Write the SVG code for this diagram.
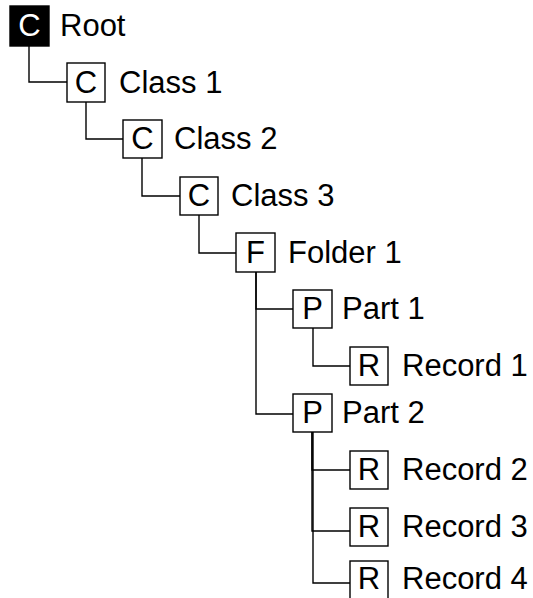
<svg xmlns="http://www.w3.org/2000/svg" width="533" height="598" viewBox="0 0 533 598">
<style>
.box{fill:#fff;stroke:#000;stroke-width:1.4}
.root{fill:#000;stroke:#000;stroke-width:1.4}
.t{font-family:"Liberation Sans",Arial,sans-serif;font-size:31px;fill:#000}
.k{font-family:"Liberation Sans",Arial,sans-serif;font-size:31px;fill:#000;text-anchor:middle}
.kw{font-family:"Liberation Sans",Arial,sans-serif;font-size:31px;fill:#fff;text-anchor:middle}
.c{fill:none;stroke:#000;stroke-width:1.4}
</style>
<rect width="533" height="598" fill="#fff"/>
<g id="connectors">
<polyline class="c" points="29,46 29,82 67,82"/>
<polyline class="c" points="86,102 86,139 123,139"/>
<polyline class="c" points="142,158 142,196 180,196"/>
<polyline class="c" points="199,215 199,253 236,253"/>
<polyline class="c" points="256,272 256,309 293,309"/>
<polyline class="c" points="256,272 256,414 293,414"/>
<polyline class="c" points="313,328 313,366 350,366"/>
<polyline class="c" points="312,432 312,470 350,470"/>
<polyline class="c" points="312,432 312,531 350,531"/>
<polyline class="c" points="313,432 313,583 350,583"/>
</g>
<g id="root"><rect class="root" x="10" y="6" width="39" height="40"/><text class="kw" x="29.5" y="36">C</text><text class="t" x="60" y="36">Root</text></g>
<g id="class1"><rect class="box" x="67" y="63" width="38" height="39"/><text class="k" x="86" y="93">C</text><text class="t" x="119" y="93">Class 1</text></g>
<g id="class2"><rect class="box" x="123" y="120" width="39" height="38"/><text class="k" x="142.5" y="149">C</text><text class="t" x="174" y="149">Class 2</text></g>
<g id="class3"><rect class="box" x="180" y="177" width="38" height="38"/><text class="k" x="199" y="206">C</text><text class="t" x="231" y="206">Class 3</text></g>
<g id="folder1"><rect class="box" x="236" y="233" width="39" height="39"/><text class="k" x="255.5" y="263">F</text><text class="t" x="288" y="263">Folder 1</text></g>
<g id="part1"><rect class="box" x="293" y="290" width="39" height="38"/><text class="k" x="312.5" y="319">P</text><text class="t" x="342" y="319">Part 1</text></g>
<g id="record1"><rect class="box" x="350" y="347" width="38" height="38"/><text class="k" x="369" y="376">R</text><text class="t" x="402" y="376">Record 1</text></g>
<g id="part2"><rect class="box" x="293" y="394" width="39" height="38"/><text class="k" x="312.5" y="423">P</text><text class="t" x="342" y="423">Part 2</text></g>
<g id="record2"><rect class="box" x="350" y="451" width="38" height="38"/><text class="k" x="369" y="480">R</text><text class="t" x="402" y="480">Record 2</text></g>
<g id="record3"><rect class="box" x="350" y="508" width="38" height="38"/><text class="k" x="369" y="537">R</text><text class="t" x="402" y="537">Record 3</text></g>
<g id="record4"><rect class="box" x="350" y="561" width="38" height="42"/><text class="k" x="369" y="589">R</text><text class="t" x="402" y="589">Record 4</text></g>
</svg>
